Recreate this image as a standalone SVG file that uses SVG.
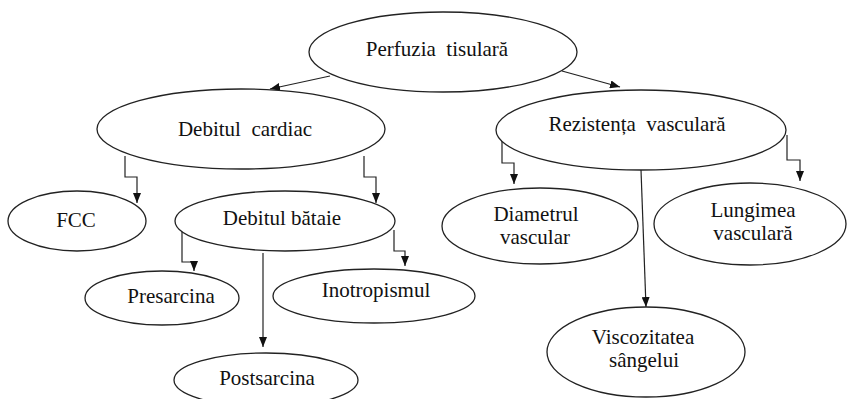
<svg xmlns="http://www.w3.org/2000/svg" width="849" height="399" viewBox="0 0 849 399">
<defs>
<marker id="ah" viewBox="0 0 10 8" refX="10" refY="4" markerWidth="10" markerHeight="8" markerUnits="userSpaceOnUse" orient="auto">
<path d="M0,0 L10,4 L0,8 z" fill="#111"/>
</marker>
<style>
.n ellipse{fill:#fff;stroke:#222;stroke-width:1.3}
.n text{font-family:"Liberation Serif","Times New Roman",serif;font-size:21px;fill:#111;text-anchor:middle}
.c path{fill:none;stroke:#222;stroke-width:1.2;marker-end:url(#ah)}
</style>
</defs>
<rect width="849" height="399" fill="#fff"/>
<g class="c" id="connectors">
<path d="M330,76 L270,89"/>
<path d="M562,71 L620,87"/>
<path d="M125,156 L125,177 L137,177 L137,203"/>
<path d="M364,156 L364,177 L376,177 L376,203"/>
<path d="M502,140 L502,163 L514,163 L514,184"/>
<path d="M787,135 L787,160 L800,160 L800,181"/>
<path d="M641,170 L646,307"/>
<path d="M182,230 L182,262 L194,262 L194,271"/>
<path d="M394,230 L394,251 L405,251 L405,266"/>
<path d="M263,253 L263,347"/>
</g>
<g class="n" id="perfuzia"><ellipse cx="443" cy="52" rx="134" ry="40"/><text x="437" y="56" xml:space="preserve">Perfuzia  tisulară</text></g>
<g class="n" id="debitul-cardiac"><ellipse cx="241" cy="129" rx="144" ry="40"/><text x="245" y="136" xml:space="preserve">Debitul  cardiac</text></g>
<g class="n" id="rezistenta"><ellipse cx="641" cy="130" rx="145" ry="40"/><text x="637" y="131" xml:space="preserve">Rezistența  vasculară</text></g>
<g class="n" id="fcc"><ellipse cx="77" cy="221" rx="69" ry="30"/><text x="76" y="227">FCC</text></g>
<g class="n" id="debitul-bataie"><ellipse cx="285" cy="221" rx="110" ry="30"/><text x="282" y="225">Debitul bătaie</text></g>
<g class="n" id="presarcina"><ellipse cx="162" cy="298" rx="77" ry="27"/><text x="171" y="303">Presarcina</text></g>
<g class="n" id="inotropismul"><ellipse cx="374" cy="296" rx="101" ry="27"/><text x="376" y="297">Inotropismul</text></g>
<g class="n" id="postsarcina"><ellipse cx="266" cy="380" rx="92" ry="27"/><text x="267" y="385">Postsarcina</text></g>
<g class="n" id="diametrul"><ellipse cx="540" cy="226" rx="98" ry="38"/><text x="536" y="221">Diametrul</text><text x="535" y="244">vascular</text></g>
<g class="n" id="lungimea"><ellipse cx="750" cy="224" rx="96" ry="41"/><text x="753" y="217">Lungimea</text><text x="753" y="240">vasculară</text></g>
<g class="n" id="viscozitatea"><ellipse cx="646" cy="352" rx="99" ry="45"/><text x="643" y="344">Viscozitatea</text><text x="644" y="367">sângelui</text></g>
</svg>
